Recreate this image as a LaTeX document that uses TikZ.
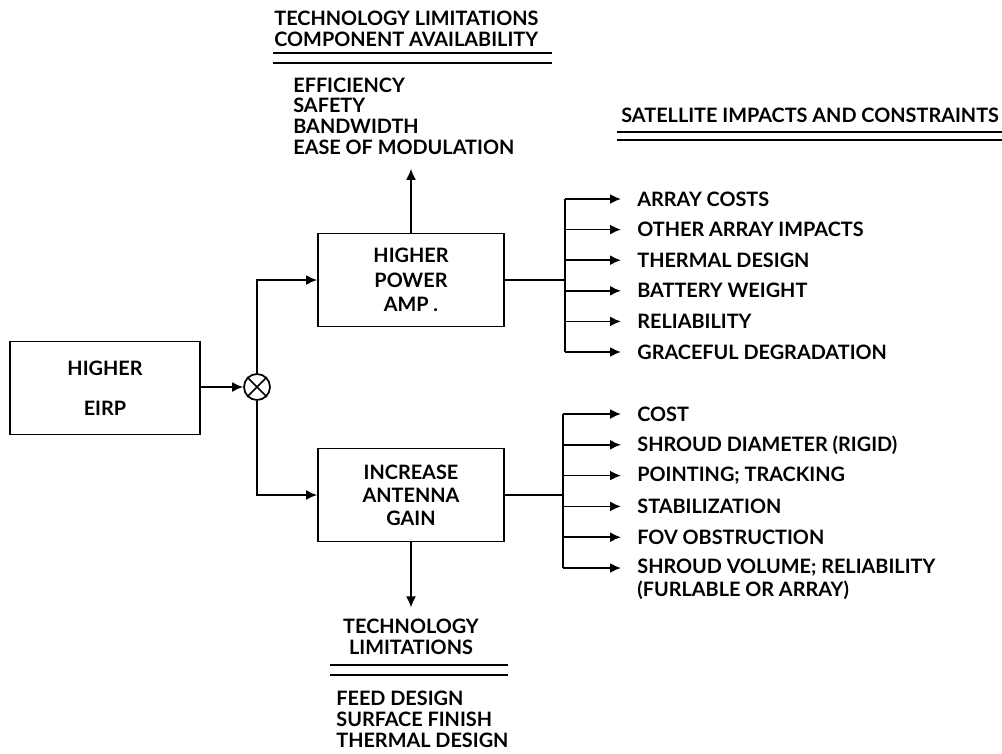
\documentclass[tikz,border=0pt]{standalone}
\usepackage{fontspec}
\setmainfont{Lato}
\usetikzlibrary{arrows.meta, positioning}
\newcommand{\diagfont}{\fontsize{11.3}{13}\selectfont\bfseries}
\newcommand{\listfont}{\fontsize{11.3}{11.8}\selectfont\bfseries}

\begin{document}
\begin{tikzpicture}[
        x=0.02cm, y=-0.02cm,
        line/.style={line width=1pt},
        arrow/.style={line width=1pt, -{Latex[length=2.2mm, width=2mm]}},
        block/.style={rectangle, draw, line width=1pt, minimum width=3.72cm, minimum height=1.86cm,
                      align=center, font=\diagfont},
        mixer/.style={circle, draw, line width=1pt, minimum size=0.52cm, inner sep=0pt},
        item/.style={anchor=west, inner xsep=0.32cm, inner ysep=0pt, font=\diagfont},
        heading/.style={inner sep=0pt, font=\listfont}
      ]
        \useasboundingbox (0,0) rectangle (1002,754);

        \node[block, minimum width=3.8cm] (eirp) at (105,388) {HIGHER\\[10pt]EIRP};
        \node[mixer] (mix) at (257,387) {};
        \draw[line] (mix.north west) -- (mix.south east) (mix.north east) -- (mix.south west);
        \node[block] (amp) at (411,280) {HIGHER\\[1pt]POWER\\[1pt]AMP .};
        \node[block] (ant) at (411,495) {INCREASE\\ANTENNA\\GAIN};

        \draw[arrow] (eirp.east |- mix.west) -- (mix.west);
        \draw[arrow] (mix.north) |- (amp.west);
        \draw[arrow] (mix.south) |- (ant.west);

        % power amplifier side
        \node[heading, align=left, anchor=west] (amplim) at (274,28.5) {TECHNOLOGY LIMITATIONS\\COMPONENT AVAILABILITY};
        \draw[line width=1.2pt] (273,53) -- (552,53);
        \draw[line width=0.8pt] (273,63) -- (552,63);
        \node[heading, align=left, anchor=west] (ampneeds) at (293,116) {EFFICIENCY\\SAFETY\\BANDWIDTH\\EASE OF MODULATION};
        \draw[arrow, shorten >=0.28cm] (amp.north) -- (amp.north |- ampneeds.south);

        \node[heading, anchor=west] (sathd) at (621,115) {SATELLITE IMPACTS AND CONSTRAINTS};
        \draw[line width=1.2pt] (617,132) -- (1002,132);
        \draw[line width=0.8pt] (617,140) -- (1002,140);

        \foreach \n/\t [count=\i] in {a1/ARRAY COSTS, a2/OTHER ARRAY IMPACTS, a3/THERMAL DESIGN,
                                      a4/BATTERY WEIGHT, a5/RELIABILITY, a6/GRACEFUL DEGRADATION}
          \node[item] (\n) at (621,168.4+30.6*\i) {\t};
        \coordinate (abus) at (565,278);
        \draw[line] (amp.east) -- (amp.east -| abus);
        \draw[line] (a1.west -| abus) -- (a6.west -| abus);
        \foreach \n in {a1,a2,a3,a4,a5,a6}
          \draw[arrow] (\n.west -| abus) -- (\n.west);

        % antenna side
        \node[heading, align=center] (antlim) at (411,636.5) {TECHNOLOGY\\LIMITATIONS};
        \draw[line width=1.2pt] (330,665) -- (508,665);
        \draw[line width=0.8pt] (330,675) -- (508,675);
        \node[heading, align=left, anchor=west] (antneeds) at (336,719.5) {FEED DESIGN\\SURFACE FINISH\\THERMAL DESIGN};
        \draw[arrow, shorten >=0.22cm] (ant.south) -- (ant.south |- antlim.north);

        \foreach \n/\t [count=\i] in {b1/COST, b2/SHROUD DIAMETER (RIGID), b3/POINTING; TRACKING,
                                      b4/STABILIZATION, b5/FOV OBSTRUCTION, b6/SHROUD VOLUME; RELIABILITY}
          \node[item] (\n) at (621,383.2+30.8*\i) {\t};
        \node[item] (b7) at (621,590) {(FURLABLE OR ARRAY)};
        \coordinate (bbus) at (563,490);
        \draw[line] (ant.east) -- (ant.east -| bbus);
        \draw[line] (b1.west -| bbus) -- (b6.west -| bbus);
        \foreach \n in {b1,b2,b3,b4,b5,b6}
          \draw[arrow] (\n.west -| bbus) -- (\n.west);
      \end{tikzpicture}
\end{document}
